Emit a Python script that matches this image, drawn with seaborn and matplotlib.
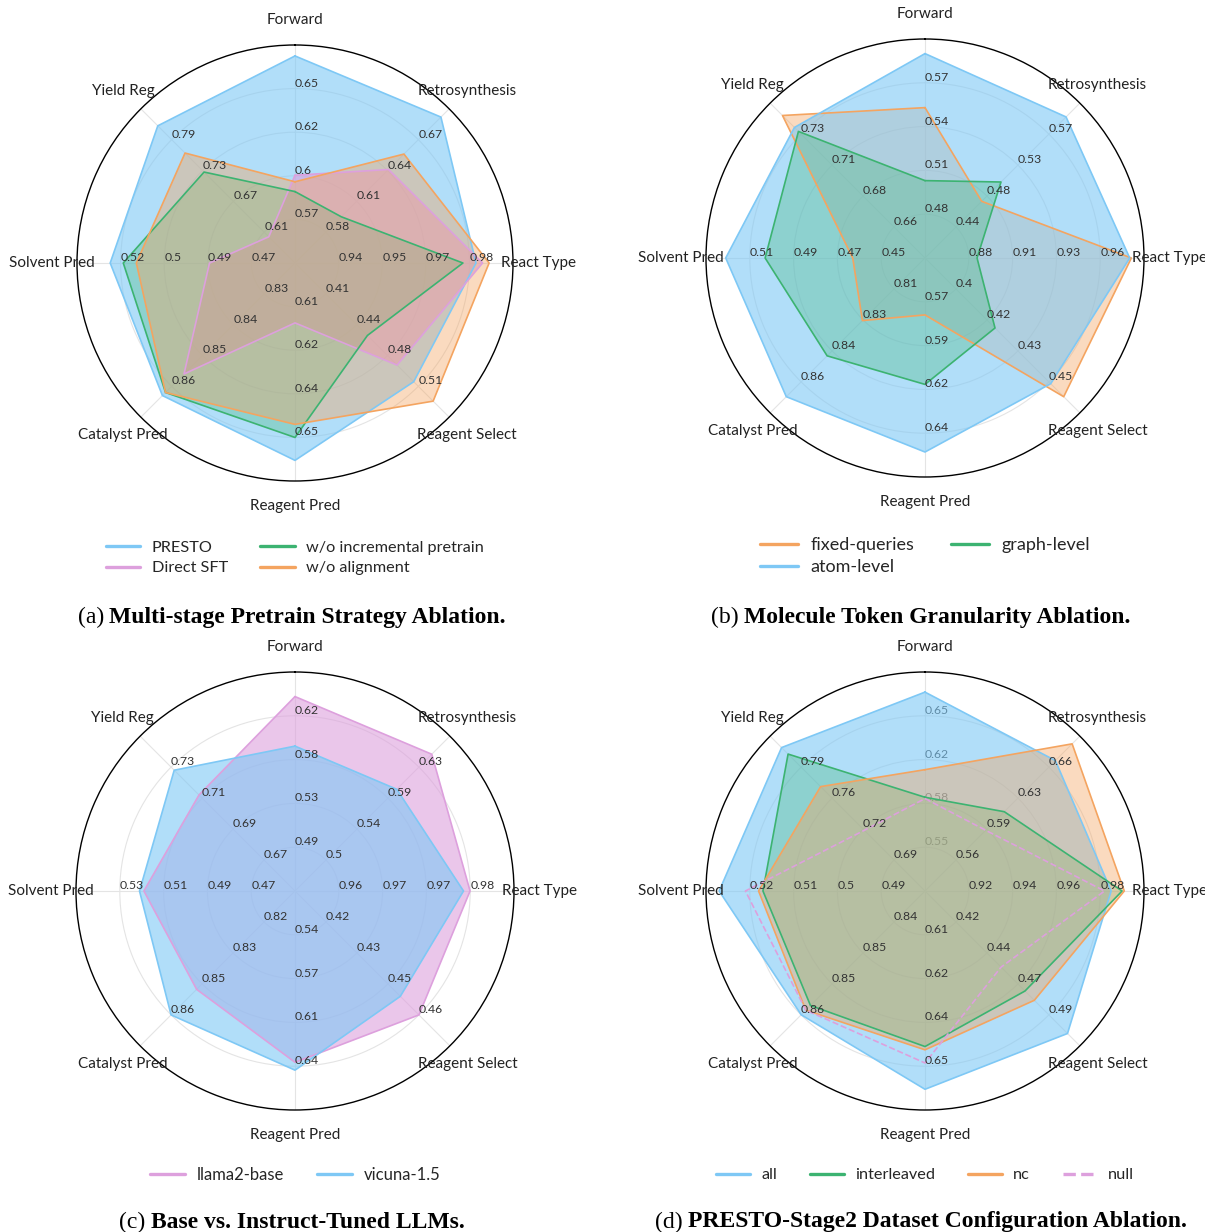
import numpy as np
import matplotlib.pyplot as plt
from matplotlib.lines import Line2D
import seaborn as sns

# -----------------------------------------------
# DATA
# -----------------------------------------------
TASKS = ["Forward", "Retrosynthesis", "React Type", "Reagent Select",
         "Reagent Pred", "Catalyst Pred", "Solvent Pred", "Yield Reg"]

# per-axis scale (value at centre, value at outer circle), one pair per task
a_lo = [0.5433, 0.55, 0.9267, 0.3767, 0.5967, 0.82, 0.4533, 0.55]
a_hi = [0.6767, 0.70, 0.9933, 0.5433, 0.6633, 0.87, 0.5367, 0.85]
b_lo = [0.45, 0.3967, 0.8533, 0.3833, 0.5467, 0.7933, 0.43, 0.6367]
b_hi = [0.60, 0.6133, 0.9867, 0.4667, 0.6633, 0.8767, 0.53, 0.7533]
c_lo = [0.4467, 0.4567, 0.9533, 0.4067, 0.5067, 0.8067, 0.45, 0.65]
c_hi = [0.6633, 0.6733, 0.9867, 0.4733, 0.6733, 0.8733, 0.55, 0.75]
d_lo = [0.5167, 0.5267, 0.90, 0.3967, 0.5967, 0.8333, 0.48, 0.6567]
d_hi = [0.6833, 0.6933, 1.00, 0.5133, 0.6633, 0.8667, 0.53, 0.8233]

# (a) multi-stage pretrain strategy
presto = [0.670, 0.692, 0.982, 0.505, 0.657, 0.863, 0.524, 0.817]
direct_sft = [0.597, 0.641, 0.984, 0.487, 0.615, 0.856, 0.486, 0.601]
wo_incremental = [0.587, 0.595, 0.978, 0.455, 0.650, 0.862, 0.519, 0.727]
wo_alignment = [0.593, 0.656, 0.986, 0.526, 0.646, 0.862, 0.514, 0.764]

# (b) molecule token granularity
fixed_queries = [0.553, 0.476, 0.979, 0.458, 0.577, 0.827, 0.463, 0.744]
atom_level = [0.590, 0.594, 0.978, 0.451, 0.650, 0.868, 0.521, 0.735]
graph_level = [0.503, 0.503, 0.885, 0.421, 0.614, 0.846, 0.503, 0.732]

# (c) base vs instruct-tuned LLMs
llama2_base = [0.639, 0.648, 0.980, 0.460, 0.637, 0.849, 0.519, 0.712]
vicuna_15 = [0.590, 0.599, 0.979, 0.452, 0.643, 0.860, 0.521, 0.728]

# (d) stage-2 dataset configuration
cfg_all = [0.668, 0.667, 0.985, 0.504, 0.657, 0.860, 0.527, 0.811]
cfg_interleaved = [0.588, 0.612, 0.990, 0.472, 0.644, 0.858, 0.517, 0.804]
cfg_nc = [0.609, 0.685, 0.991, 0.479, 0.645, 0.859, 0.518, 0.769]
cfg_null = [0.587, 0.592, 0.982, 0.454, 0.649, 0.859, 0.521, 0.722]

# -----------------------------------------------
# STYLE
# -----------------------------------------------
sns.set_theme(style="white")
plt.rcParams["font.family"] = ["Lato", "DejaVu Sans"]

BLUE = "#7ec8f5"
PINK = "#dda0dd"
GREEN = "#3cb371"
ORANGE = "#f4a460"
ALPHA = {BLUE: 0.6, PINK: 0.6, GREEN: 0.3, ORANGE: 0.4}

W, H = 1205, 1232
fig = plt.figure(figsize=(W / 100, H / 100), dpi=100)
angles = np.deg2rad(np.arange(len(TASKS)) * 45.0)
rings = [0.2, 0.4, 0.6, 0.8]


def radar(cx, cy, R, lo, hi, series, under=()):
    ax = fig.add_axes([(cx - R) / W, 1 - (cy + R) / H, 2 * R / W, 2 * R / H],
                      projection="polar")
    ax.set_theta_zero_location("N")
    ax.set_theta_direction(-1)
    ax.set_ylim(0, 1)
    ax.set_xticks(angles)
    ax.set_xticklabels([])
    ax.set_yticks(rings)
    ax.set_yticklabels([])
    ax.grid(True, color="#e4e4e4", lw=0.8)
    ax.spines["polar"].set_color("black")
    ax.spines["polar"].set_linewidth(1.0)
    ax.set_facecolor("none")

    lo = np.array(lo)
    hi = np.array(hi)
    th = np.append(angles, angles[0])
    for vals, color, ls, fill in series:
        r = (np.array(vals) - lo) / (hi - lo)
        rr = np.append(r, r[0])
        if fill:
            ax.fill(th, rr, color=color, alpha=ALPHA[color], lw=0, zorder=2)
        ax.plot(th, rr, color=color, lw=1.2, ls=ls, zorder=3)

    for k, name in enumerate(TASKS):
        ax.text(angles[k], 1.115, name, ha="center", va="center",
                fontsize=11, color="#222222")
        for f in rings:
            v = round(lo[k] + f * (hi[k] - lo[k]), 2)
            ax.text(angles[k], f, f"{v:g}", ha="left", va="bottom",
                    fontsize=8.8, color="#333333",
                    zorder=1 if k in under else 5)
    return ax


def legend(cx, cy, items, ncol, size, spacing=0.35):
    handles = [Line2D([], [], color=c, lw=2.4, ls=ls) for _, c, ls in items]
    fig.legend(handles, [n for n, _, _ in items], loc="center",
               bbox_to_anchor=(cx / W, 1 - cy / H), ncol=ncol, frameon=False,
               fontsize=size, handlelength=2.1, handletextpad=0.7,
               columnspacing=2.0, labelspacing=spacing)


def caption(cx, cy, tag, title):
    renderer = fig.canvas.get_renderer()
    t1 = fig.text(0, 1 - cy / H, tag, fontsize=17, va="center",
                  family="Liberation Serif", color="black")
    t2 = fig.text(0, 1 - cy / H, title, fontsize=17, va="center",
                  family="Liberation Serif", fontweight="bold", color="black")
    w1 = t1.get_window_extent(renderer).width
    w2 = t2.get_window_extent(renderer).width
    gap = 5
    x0 = cx - (w1 + gap + w2) / 2
    t1.set_x(x0 / W)
    t2.set_x((x0 + w1 + gap) / W)


# (a)
radar(295, 263, 218, a_lo, a_hi, [
    (presto, BLUE, "-", True),
    (direct_sft, PINK, "-", True),
    (wo_incremental, GREEN, "-", True),
    (wo_alignment, ORANGE, "-", True),
])
legend(295, 558, [("PRESTO", BLUE, "-"), ("Direct SFT", PINK, "-"),
                  ("w/o incremental pretrain", GREEN, "-"),
                  ("w/o alignment", ORANGE, "-")], 2, 11.7)
caption(292, 617, "(a)", "Multi-stage Pretrain Strategy Ablation.")

# (b)
radar(925, 258, 219, b_lo, b_hi, [
    (fixed_queries, ORANGE, "-", True),
    (atom_level, BLUE, "-", True),
    (graph_level, GREEN, "-", True),
])
legend(925, 556, [("fixed-queries", ORANGE, "-"), ("atom-level", BLUE, "-"),
                  ("graph-level", GREEN, "-")], 2, 13)
caption(921, 617, "(b)", "Molecule Token Granularity Ablation.")

# (c)
radar(295, 891, 219, c_lo, c_hi, [
    (llama2_base, PINK, "-", True),
    (vicuna_15, BLUE, "-", True),
])
legend(295, 1175, [("llama2-base", PINK, "-"), ("vicuna-1.5", BLUE, "-")], 2, 12)
caption(292, 1222, "(c)", "Base vs. Instruct-Tuned LLMs.")

# (d)
radar(925, 891, 219, d_lo, d_hi, [
    (cfg_all, BLUE, "-", True),
    (cfg_interleaved, GREEN, "-", True),
    (cfg_nc, ORANGE, "-", True),
    (cfg_null, PINK, "--", False),
], under=(0,))
legend(925, 1175, [("all", BLUE, "-"), ("interleaved", GREEN, "-"),
                   ("nc", ORANGE, "-"), ("null", PINK, "--")], 4, 11.7)
caption(921, 1222, "(d)", "PRESTO-Stage2 Dataset Configuration Ablation.")

fig.savefig("out.png", dpi=100)
